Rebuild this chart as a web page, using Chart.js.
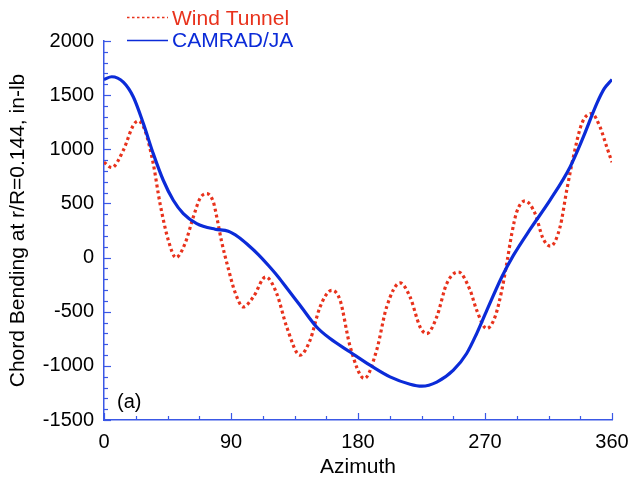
<!DOCTYPE html>
<html>
<head>
<meta charset="utf-8">
<script src="https://cdn.jsdelivr.net/npm/chart.js@4"></script>
<style>
html,body{margin:0;padding:0;background:#fff;}
#wrap{width:629px;height:481px;position:relative;}
</style>
</head>
<body>
<div id="wrap"><canvas id="c" width="629" height="481"></canvas></div>
<script>
// ---- data ----
const seriesNames = ["Wind Tunnel", "CAMRAD/JA"];
const xTickValues = [0, 90, 180, 270, 360];
const yTickValues = [-1500, -1000, -500, 0, 500, 1000, 1500, 2000];

const windAz = [0, 5.5, 13.7, 20.8, 24.3, 29, 34.9, 39.7, 45.6, 51, 57.4, 63.3, 68, 72.8, 77.5, 79.9, 83.4, 88.1, 92.8, 98.7, 105.8, 114.6, 122.4, 129.5, 138.9, 146, 153.1, 161.4, 167.3, 174.4, 184.5, 193.2, 200.3, 209.8, 216.9, 224, 228.7, 235.8, 242.9, 251.1, 259.4, 264.1, 271.2, 277.1, 281.9, 285.4, 289, 292.5, 298.4, 305.5, 311, 316.3, 323.2, 327.9, 332.6, 338.6, 345.6, 351.5, 356.3, 360];
const windVal = [880, 831, 991, 1222, 1262, 1175, 868, 499, 160, 0, 129, 375, 545, 591, 513, 375, 144, -102, -318, -456, -364, -179, -332, -641, -902, -764, -456, -302, -394, -820, -1117, -856, -456, -234, -364, -641, -702, -548, -240, -133, -300, -486, -656, -548, -302, -55, 222, 422, 523, 406, 180, 105, 283, 621, 929, 1237, 1330, 1206, 1021, 880];

const camradAz = [0, 5.5, 13.7, 20.8, 27.9, 34.9, 42, 49.1, 56.2, 65.7, 78.7, 88.1, 95.2, 102.3, 109.4, 116.4, 123.5, 130.6, 138.9, 150.7, 160.2, 174.4, 188.5, 202.7, 216.9, 225.2, 235.8, 247.6, 257, 264.1, 271.2, 281.9, 290.1, 301.9, 316.1, 330.3, 339.7, 349.2, 354.5, 360];
const camradVal = [1645, 1670, 1620, 1483, 1237, 960, 714, 529, 406, 314, 262, 243, 190, 114, 28, -71, -179, -300, -440, -641, -748, -872, -994, -1102, -1170, -1188, -1150, -1040, -886, -702, -490, -179, 20, 260, 530, 837, 1114, 1422, 1560, 1645];

const RED = '#e8321c';
const BLUE = '#0b2bd8';
const AXIS = '#3a58e6';
const FONT = '"Liberation Sans", Arial, sans-serif';

function pts(xs, ys){ return xs.map((x,i)=>({x:x, y:ys[i]})); }

const decor = {
  id: 'decor',
  afterDraw(chart){
    const ctx = chart.ctx;
    const xs = chart.scales.x, ys = chart.scales.y;
    const ca = chart.chartArea;
    ctx.save();
    ctx.strokeStyle = AXIS;
    ctx.lineWidth = 1.2;
    // inward ticks on x axis
    for (let v = 0; v <= 360; v += 22.5){
      const px = Math.round(xs.getPixelForValue(v)) + 0.5;
      const len = (v % 90 === 0) ? 7 : 4;
      ctx.beginPath(); ctx.moveTo(px, ca.bottom); ctx.lineTo(px, ca.bottom - len); ctx.stroke();
    }
    // inward ticks on y axis
    for (let v = -1500; v <= 2000; v += 100){
      const py = Math.round(ys.getPixelForValue(v)) + 0.5;
      const len = (v % 500 === 0) ? 7 : 4;
      ctx.beginPath(); ctx.moveTo(ca.left, py); ctx.lineTo(ca.left + len, py); ctx.stroke();
    }
    // legend
    ctx.font = '21px ' + FONT;
    ctx.textBaseline = 'middle';
    ctx.textAlign = 'left';
    ctx.lineWidth = 1.5;
    ctx.strokeStyle = RED; ctx.setLineDash([2.5,2.5]);
    ctx.beginPath(); ctx.moveTo(127, 17.5); ctx.lineTo(168, 17.5); ctx.stroke();
    ctx.setLineDash([]);
    ctx.strokeStyle = BLUE;
    ctx.beginPath(); ctx.moveTo(127, 40.5); ctx.lineTo(168, 40.5); ctx.stroke();
    ctx.fillStyle = RED; ctx.fillText(seriesNames[0], 172, 19);
    ctx.fillStyle = BLUE; ctx.fillText(seriesNames[1], 172, 41);
    // panel label
    ctx.fillStyle = '#000';
    ctx.font = '20px ' + FONT;
    ctx.fillText('(a)', 117, 402);
    ctx.restore();
  }
};

new Chart(document.getElementById('c'), {
  type: 'scatter',
  data: {
    datasets: [
      { label: seriesNames[1], data: pts(camradAz, camradVal), showLine: true, borderColor: BLUE, borderWidth: 3.2,
        pointRadius: 0, cubicInterpolationMode: 'monotone', fill: false },
      { label: seriesNames[0], data: pts(windAz, windVal), showLine: true, borderColor: RED, borderWidth: 3.2,
        borderDash: [3, 3], pointRadius: 0, cubicInterpolationMode: 'monotone', fill: false }
    ]
  },
  options: {
    responsive: false,
    animation: false,
    devicePixelRatio: 1,
    layout: { padding: { top: 41, right: 17, left: 0, bottom: 0 } },
    plugins: { legend: { display: false }, tooltip: { enabled: false } },
    scales: {
      x: {
        type: 'linear', min: 0, max: 360,
        afterBuildTicks(s){ s.ticks = xTickValues.map(v=>({value:v})); },
        afterFit(s){ s.height = 61; s.paddingLeft = 0; s.paddingRight = 0; },
        grid: { display: false, drawTicks: false },
        border: { display: true, color: AXIS, width: 1.5 },
        ticks: { color: '#000', padding: 10, maxRotation: 0, callback: v => String(v),
          font: { size: 20, family: FONT } },
        title: { display: true, text: 'Azimuth', color: '#000', padding: { top: 0, bottom: 1 },
          font: { size: 21, family: FONT } }
      },
      y: {
        type: 'linear', min: -1500, max: 2000,
        afterBuildTicks(s){ s.ticks = yTickValues.map(v=>({value:v})); },
        afterFit(s){ s.width = 104; s.paddingTop = 0; s.paddingBottom = 0; },
        grid: { display: false, drawTicks: false },
        border: { display: true, color: AXIS, width: 1.5 },
        ticks: { color: '#000', padding: 10, callback: v => String(v),
          font: { size: 20, family: FONT } },
        title: { display: true, text: 'Chord Bending at r/R=0.144, in-lb', color: '#000', padding: { top: 6, bottom: 0 },
          font: { size: 21, family: FONT } }
      }
    }
  },
  plugins: [decor]
});
</script>
</body>
</html>
